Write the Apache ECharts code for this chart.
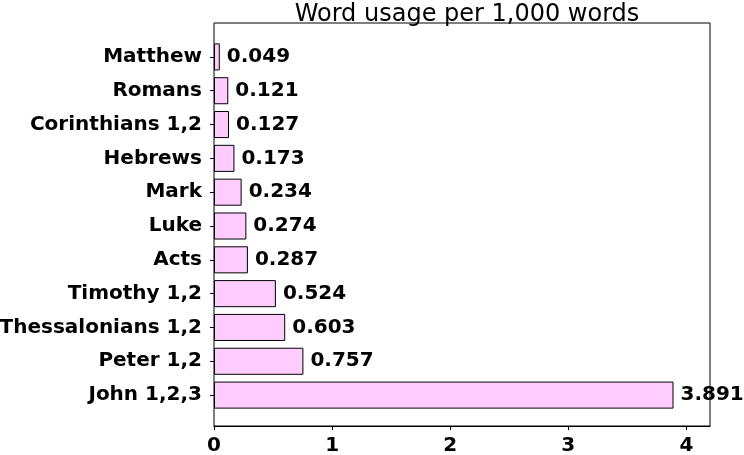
<!DOCTYPE html>
<html lang="en">
<head>
    <meta charset="utf-8">
    <script src="https://cdn.jsdelivr.net/npm/echarts@6/dist/echarts.min.js"></script>
    <style>
        html, body { margin: 0; padding: 0; background: #fff; }
        #word_chart { width: 744px; height: 455px; }
    </style>
</head>
<body>
<div id="word_chart"></div>
<script>
    // books, top to bottom
    var books = ['Matthew', 'Romans', 'Corinthians 1,2', 'Hebrews', 'Mark', 'Luke', 'Acts',
        'Timothy 1,2', 'Thessalonians 1,2', 'Peter 1,2', 'John 1,2,3'];
    var usage = [0.049, 0.121, 0.127, 0.173, 0.234, 0.274, 0.287, 0.524, 0.603, 0.757, 3.891];
    var xTicks = [0, 1, 2, 3, 4];

    var myChart = echarts.init(document.getElementById('word_chart'));
    var font = 'DejaVu Sans';
    var black = '#000';

    var option = {
        animation: false,
        title: {
            text: 'Word usage per 1,000 words',
            left: 462,
            textAlign: 'center',
            top: -2,
            textStyle: { fontFamily: font, fontWeight: 'normal', fontSize: 24, color: black }
        },
        // grid 0 = outer frame with the x axis, grid 1 = inner area holding the bars
        grid: [
            { left: 214, right: 34, top: 23, bottom: 29, outerBoundsMode: 'none',
              show: true, borderColor: black, borderWidth: 1 },
            { left: 214, right: 34, top: 40, bottom: 43, outerBoundsMode: 'none' }
        ],
        xAxis: [{
            gridIndex: 0,
            type: 'value',
            min: 0, max: 4.2, interval: 1,
            splitLine: { show: false },
            axisLine: { show: true, lineStyle: { color: black } },
            axisTick: { show: true, length: 4, customValues: xTicks, lineStyle: { color: black } },
            axisLabel: {
                customValues: xTicks,
                margin: 10,
                fontFamily: font, fontWeight: 'bold', fontSize: 20, color: black
            }
        }, {
            gridIndex: 1,
            type: 'value',
            min: 0, max: 4.2,
            show: false
        }],
        yAxis: [{
            gridIndex: 0,
            type: 'value',
            show: false
        }, {
            gridIndex: 1,
            type: 'category',
            inverse: true,
            data: books,
            axisLine: { show: false },
            axisTick: { show: true, alignWithLabel: true, length: 4, lineStyle: { color: black } },
            axisLabel: { margin: 12, fontFamily: font, fontWeight: 'bold', fontSize: 20, color: black }
        }],
        series: [{
            type: 'bar',
            xAxisIndex: 1,
            yAxisIndex: 1,
            data: usage,
            barCategoryGap: '20%',
            itemStyle: { color: '#ffccff', borderColor: black, borderWidth: 1 },
            label: {
                show: true,
                position: 'right',
                distance: 7,
                formatter: function (p) { return p.value.toFixed(3); },
                fontFamily: font, fontWeight: 'bold', fontSize: 20, color: black
            }
        }]
    };

    myChart.setOption(option);
</script>
</body>
</html>
